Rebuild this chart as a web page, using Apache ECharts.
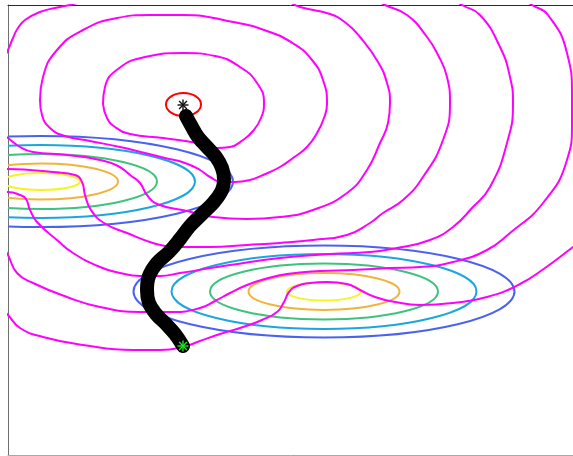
<!DOCTYPE html>
<html>
<head>
<meta charset="utf-8">
<script src="https://cdn.jsdelivr.net/npm/echarts@6/dist/echarts.min.js"></script>
<style>html,body{margin:0;padding:0;background:#fff;}#chart{width:573px;height:456px;}</style>
</head>
<body>
<div id="chart"></div>
<script>
// ---- data (data units) ----
const ring1 = [[0.95,3.51],[0.99,3.37],[1.07,3.28],[1.22,3.21],[1.55,3.17],[1.89,3.12],[2.09,3.07],[2.22,3.08],[2.35,3.15],[2.45,3.24],[2.53,3.37],[2.56,3.52],[2.49,3.72],[2.32,3.88],[2.07,3.99],[1.75,4.02],[1.37,3.98],[1.10,3.86],[0.97,3.68],[0.95,3.51]];
const ring2 = [[0.32,3.55],[0.34,3.40],[0.42,3.27],[0.57,3.19],[0.82,3.14],[1.12,3.08],[1.37,3.02],[1.57,2.97],[1.77,2.92],[1.92,2.85],[2.02,2.78],[2.14,2.73],[2.27,2.73],[2.42,2.75],[2.55,2.80],[2.72,2.88],[2.85,2.97],[2.99,3.08],[3.09,3.22],[3.16,3.37],[3.19,3.51],[3.15,3.75],[3.04,3.95],[2.86,4.11],[2.59,4.24],[2.25,4.33],[1.75,4.40],[1.42,4.40],[1.09,4.37],[0.75,4.25],[0.49,4.05],[0.35,3.78],[0.32,3.55]];
const ring3a = [[-0.04,3.97],[0,4.05],[0.05,4.17],[0.10,4.27],[0.17,4.35],[0.32,4.43],[0.47,4.47],[0.62,4.50],[0.72,4.53]];
const ring3b = [[-0.05,3.21],[0,3.17],[0.12,3.08],[0.25,3.03],[0.59,3.00],[0.92,2.95],[1.10,2.89],[1.22,2.80],[1.32,2.72],[1.39,2.60],[1.49,2.51],[1.79,2.44],[2.05,2.38],[2.39,2.36],[2.72,2.38],[3.05,2.45],[3.39,2.62],[3.59,2.85],[3.72,3.12],[3.80,3.32],[3.82,3.52],[3.79,3.72],[3.70,3.93],[3.52,4.18],[3.38,4.32],[3.22,4.41],[2.92,4.48],[2.82,4.53]];
const ring4 = [[-0.05,2.86],[0,2.86],[0.22,2.85],[0.45,2.83],[0.67,2.80],[0.74,2.73],[0.77,2.60],[0.83,2.45],[0.96,2.32],[1.19,2.22],[1.45,2.12],[1.67,2.08],[2.02,2.08],[2.39,2.10],[2.72,2.12],[3.05,2.15],[3.39,2.20],[3.62,2.32],[3.75,2.42],[3.95,2.55],[4.15,2.78],[4.35,3.15],[4.42,3.52],[4.39,3.78],[4.30,4.00],[4.19,4.18],[3.99,4.40],[3.77,4.50],[3.70,4.54]];
const ring5 = [[-0.05,2.63],[0,2.63],[0.12,2.60],[0.18,2.56],[0.22,2.45],[0.29,2.33],[0.49,2.15],[0.65,2.02],[0.92,1.88],[1.12,1.82],[1.32,1.79],[1.52,1.79],[1.72,1.82],[2.22,1.90],[2.72,1.97],[3.22,2.01],[3.62,2.03],[3.89,2.07],[4.22,2.15],[4.45,2.28],[4.64,2.47],[4.82,2.68],[4.99,3.12],[5.05,3.52],[5.02,3.78],[4.92,4.08],[4.72,4.40],[4.54,4.50],[4.48,4.54]];
const ring6 = [[-0.03,2.05],[0,2.00],[0.09,1.82],[0.25,1.72],[0.59,1.58],[0.92,1.48],[1.32,1.43],[1.65,1.43],[1.92,1.47],[2.07,1.54],[2.22,1.62],[2.39,1.70],[2.57,1.76],[2.79,1.81],[3.12,1.84],[3.45,1.85],[3.82,1.87],[4.12,1.88],[4.45,1.93],[4.79,2.05],[5.02,2.22],[5.35,2.52],[5.59,2.95],[5.64,3.30],[5.64,3.60],[5.59,4.02],[5.40,4.40],[5.24,4.50],[5.18,4.54]];
const ring7 = [[-0.05,1.45],[0,1.40],[0.12,1.27],[0.35,1.18],[0.75,1.10],[1.25,1.05],[1.52,1.05],[1.75,1.08],[1.92,1.14],[2.12,1.21],[2.35,1.28],[2.54,1.35],[2.69,1.43],[2.76,1.53],[2.81,1.63],[2.89,1.69],[3.02,1.72],[3.19,1.73],[3.39,1.71],[3.52,1.65],[3.67,1.58],[3.87,1.53],[4.12,1.50],[4.45,1.52],[4.79,1.58],[5.12,1.71],[5.37,1.87],[5.65,2.08],[5.77,2.17]];

// elliptical contour levels of the two wells (innermost first)
const leftWellCenter = [0.33, 2.735];
const leftWellRx = [0.39, 0.77, 1.16, 1.54, 1.92];
const leftWellRy = [0.085, 0.18, 0.275, 0.365, 0.455];
const rightWellCenter = [3.16, 1.635];
const rightWellRx = [0.37, 0.755, 1.14, 1.525, 1.905];
const rightWellRy = [0.09, 0.185, 0.28, 0.375, 0.46];

// red contour around start point
const startContour = [1.755, 3.505, 0.175, 0.115];

// descent path
const pathPts = [[1.78,3.39],[1.84,3.28],[1.90,3.18],[1.99,3.08],[2.08,2.98],[2.14,2.87],[2.16,2.76],[2.14,2.65],[2.06,2.53],[1.94,2.41],[1.82,2.29],[1.72,2.16],[1.61,2.03],[1.49,1.92],[1.41,1.79],[1.39,1.65],[1.41,1.52],[1.48,1.41],[1.58,1.31],[1.67,1.21],[1.75,1.09]];
const startPoint = [1.75, 3.50];
const endPoint = [1.75, 1.09];

// ---- styles ----
const levelColors = ['#f4f41e', '#f0b43c', '#3fc27e', '#1aa6de', '#4a62f0'];
const MAGENTA = '#ff00ff';

const ellipseData = [];
for (let i = 0; i < leftWellRx.length; i++) {
  ellipseData.push([leftWellCenter[0], leftWellCenter[1], leftWellRx[i], leftWellRy[i], i]);
  ellipseData.push([rightWellCenter[0], rightWellCenter[1], rightWellRx[i], rightWellRy[i], i]);
}

function ellipseItem(color, width) {
  return function (params, api) {
    const c = api.coord([api.value(0), api.value(1)]);
    const s = api.size([api.value(2), api.value(3)]);
    const col = color || levelColors[api.value(4)];
    return {
      type: 'ellipse',
      shape: { cx: c[0], cy: c[1], rx: s[0], ry: s[1] },
      style: { fill: 'none', stroke: col, lineWidth: width }
    };
  };
}

function starItem(params, api) {
  const c = api.coord([api.value(0), api.value(1)]);
  const col = api.value(2) === 0 ? '#111111' : '#22e022';
  const r = 5.5;
  const d = r * 0.7071;
  const seg = (x1, y1, x2, y2) => ({
    type: 'line',
    shape: { x1: c[0] + x1, y1: c[1] + y1, x2: c[0] + x2, y2: c[1] + y2 },
    style: { stroke: col, lineWidth: 1.4 }
  });
  return { type: 'group', children: [seg(-r, 0, r, 0), seg(0, -r, 0, r), seg(-d, -d, d, d), seg(-d, d, d, -d)] };
}

const rings = [ring1, ring2, ring3a, ring3b, ring4, ring5, ring6, ring7];
const ringSeries = rings.map(r => ({
  type: 'line', data: r, showSymbol: false, smooth: 0.5, z: 3,
  lineStyle: { color: MAGENTA, width: 2 }, silent: true, animation: false, clip: true
}));

const chart = echarts.init(document.getElementById('chart'));
chart.setOption({
  animation: false,
  grid: { left: 8, top: 5, width: 565, height: 450 },
  xAxis: [
    { type: 'value', min: 0, max: 5.65, position: 'bottom',
      axisLine: { show: true, lineStyle: { color: '#a8a8a8', width: 1 } },
      axisTick: { show: false }, axisLabel: { show: false }, splitLine: { show: false } },
    { type: 'value', min: 0, max: 5.65, position: 'top',
      axisLine: { show: true, lineStyle: { color: '#2a2a2a', width: 1 } },
      axisTick: { show: false }, axisLabel: { show: false }, splitLine: { show: false } }
  ],
  yAxis: { type: 'value', min: 0, max: 4.5, position: 'left',
    axisLine: { show: true, lineStyle: { color: '#707070', width: 1 } },
    axisTick: { show: false }, axisLabel: { show: false }, splitLine: { show: false } },
  series: [
    { type: 'custom', data: ellipseData, renderItem: ellipseItem(null, 2), clip: true, z: 2,
      encode: { x: 0, y: 1 }, silent: true },
    ...ringSeries,
    { type: 'custom', data: [startContour], renderItem: ellipseItem('#ff0000', 2), clip: true, z: 3,
      encode: { x: 0, y: 1 }, silent: true },
    { type: 'line', data: pathPts, showSymbol: false, smooth: 0.4, z: 4, silent: true,
      lineStyle: { color: '#000000', width: 14, cap: 'round', join: 'round' } },
    { type: 'custom', data: [[startPoint[0], startPoint[1], 0], [endPoint[0], endPoint[1], 1]],
      renderItem: starItem, z: 5, encode: { x: 0, y: 1 }, silent: true }
  ]
});
</script>
</body>
</html>
